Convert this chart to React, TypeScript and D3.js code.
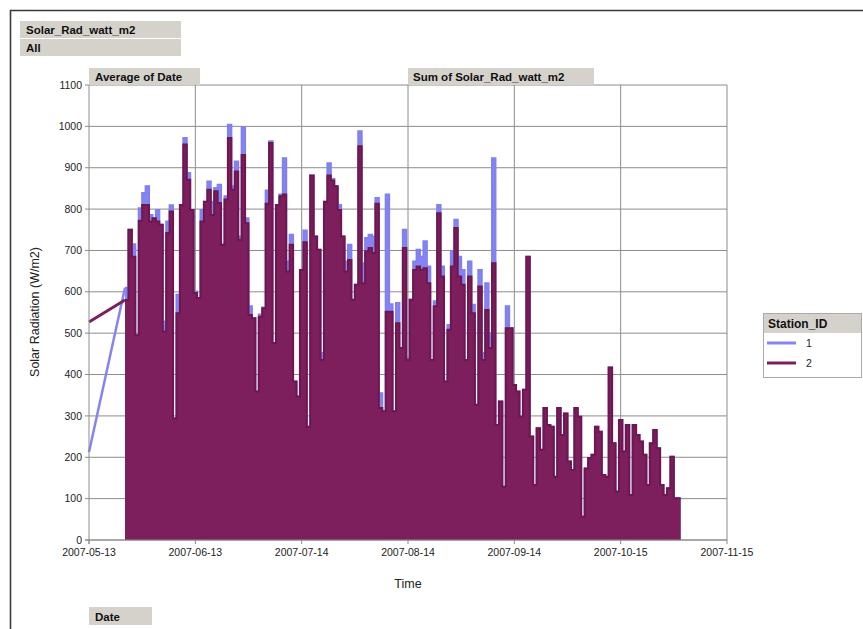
import React from "react";
import * as d3 from "d3";

// ---- data ----
const TICK_DATES = ["2007-05-13", "2007-06-13", "2007-07-14", "2007-08-14", "2007-09-14", "2007-10-15", "2007-11-15"];
const Y_TICKS = [0, 100, 200, 300, 400, 500, 600, 700, 800, 900, 1000, 1100];
const SERIES_NAMES = ["1", "2"];
const LEAD_DATE = "2007-05-13";
const LEAD_STATION1 = 213;
const LEAD_STATION2 = 527;
const FIRST_DAY = "2007-05-24";

// daily peak solar radiation (W/m2), station 2
const STATION2 = [
  580, 750, 685, 495, 772, 810, 810, 770, 778, 770, 762, 504, 742, 794, 294, 548, 810, 956, 871, 798,
  597, 585, 770, 818, 847, 786, 843, 815, 714, 823, 972, 847, 891, 726, 931, 766, 544, 536, 359,
  540, 560, 813, 960, 476, 810, 831, 835, 649, 714, 383, 347, 653, 720, 274, 881, 734, 702, 435, 818,
  881, 869, 855, 798, 734, 649, 677, 581, 617, 952, 621, 698, 706, 694, 813, 319, 311, 552, 552, 311,
  524, 464,
  706, 435, 581, 653, 661, 653, 657, 621, 435, 565, 790, 637, 383, 508, 661, 754, 637, 617, 435, 637,
  548, 327, 613, 435, 556, 464, 669, 278, 335, 129, 512, 512, 375, 359, 298, 363, 685, 250, 133, 270, 218,
  319, 278, 274, 153, 319, 254, 306, 190, 169, 319, 298, 56, 173, 198, 206, 274, 262, 157, 153, 417,
  234, 117, 290, 214, 278, 109, 278, 254, 238, 206, 133, 234, 266, 222, 133, 109, 125, 201, 101, 101,
];

// daily peak solar radiation (W/m2), station 1
const STATION1 = [
  610, 750, 715, 495, 802, 839, 855, 786, 778, 798, 762, 528, 770, 809, 294, 593, 810, 972, 887, 798,
  601, 585, 798, 818, 867, 818, 851, 859, 714, 831, 1004, 855, 915, 734, 998, 778, 565, 536, 359,
  545, 562, 845, 964, 476, 810, 835, 923, 673, 738, 383, 347, 653, 748, 274, 881, 734, 702, 452, 818,
  911, 873, 855, 810, 734, 673, 714, 581, 617, 988, 669, 730, 738, 734, 827, 355, 311, 835, 570, 311,
  573, 464,
  750, 440, 581, 673, 702, 685, 722, 661, 435, 577, 810, 661, 383, 520, 698, 774, 685, 653, 435, 673,
  569, 327, 653, 452, 621, 500, 923, 278, 335, 129, 565, 512, 375, 359, 298, 363, 685, 250, 133, 270, 218,
  319, 278, 274, 153, 319, 254, 306, 190, 169, 319, 298, 56, 173, 198, 206, 274, 262, 157, 153, 417,
  234, 117, 290, 214, 278, 109, 278, 254, 238, 206, 133, 234, 266, 222, 133, 109, 125, 201, 101, 101,
];

const COLORS = ["#8484f2", "#7d1f5c"];
const STROKES = ["#8080f0", "#6e1650"];
const FONT = "'Liberation Sans', Arial, sans-serif";
const BOX = "#d5d2cc";

const parse = d3.utcParse("%Y-%m-%d");

type Pt = { t: Date; v: number };

function stepPoints(values: number[]): Pt[] {
  const first = parse(FIRST_DAY) as Date;
  const pts: Pt[] = [];
  values.forEach((v, i) => {
    const day = d3.utcDay.offset(first, i);
    pts.push({ t: d3.utcHour.offset(day, -12), v });
    pts.push({ t: d3.utcHour.offset(day, 12), v });
  });
  return pts;
}

export default function App() {
  const W = 863, H = 629;
  const left = 89, right = 727, top = 85, bottom = 540;
  const tickDates = TICK_DATES.map((d) => parse(d) as Date);
  const x = d3.scaleUtc().domain([tickDates[0], tickDates[tickDates.length - 1]]).range([left, right]);
  const y = d3.scaleLinear().domain([0, 1100]).range([bottom, top]);

  const area = d3.area<Pt>().x((d) => x(d.t)).y0(y(0)).y1((d) => y(d.v));
  const line = d3.line<Pt>().x((d) => x(d.t)).y((d) => y(d.v));

  const series = [
    { values: STATION1, lead: LEAD_STATION1 },
    { values: STATION2, lead: LEAD_STATION2 },
  ];

  const fmt = d3.utcFormat("%Y-%m-%d");

  return (
    <div style={{ position: "absolute", left: 0, top: 0 }}>
      <svg width={W} height={H} style={{ display: "block", background: "#fff" }} fontFamily={FONT}>
        {/* frame */}
        <path d={`M10.5,${H} V10.5 H${W}`} fill="none" stroke="#3a3a3a" strokeWidth={1.6} />

        {/* gridlines */}
        {Y_TICKS.map((v) => (
          <line key={"h" + v} x1={left} x2={right} y1={y(v)} y2={y(v)} stroke="#8c8c8c" strokeWidth={1} />
        ))}
        {tickDates.slice(1).map((d, i) => (
          <line key={"v" + i} x1={x(d)} x2={x(d)} y1={top} y2={bottom} stroke="#8c8c8c" strokeWidth={1} />
        ))}

        {/* series */}
        {series.map((s, i) => {
          const pts = stepPoints(s.values);
          const leadPt: Pt = { t: parse(LEAD_DATE) as Date, v: s.lead };
          return (
            <g key={"s" + i}>
              <path d={area(pts) || ""} fill={COLORS[i]} stroke="none" />
              <path d={line(pts) || ""} fill="none" stroke={STROKES[i]} strokeWidth={2} strokeLinejoin="miter" />
              <path d={line([leadPt, pts[0]]) || ""} fill="none" stroke={COLORS[i]} strokeWidth={i === 0 ? 2.5 : 3} />
            </g>
          );
        })}

        {/* axes */}
        <line x1={left} x2={left} y1={top} y2={bottom + 4} stroke="#8c8c8c" />
        <line x1={left - 4} x2={right} y1={bottom} y2={bottom} stroke="#8c8c8c" />
        {Y_TICKS.map((v) => (
          <g key={"yt" + v}>
            <line x1={left - 4} x2={left} y1={y(v)} y2={y(v)} stroke="#8c8c8c" />
            <text x={left - 7} y={y(v)} dy="0.35em" textAnchor="end" fontSize={10.5} fill="#222">{v}</text>
          </g>
        ))}
        {tickDates.map((d, i) => (
          <g key={"xt" + i}>
            <line x1={x(d)} x2={x(d)} y1={bottom} y2={bottom + 4} stroke="#8c8c8c" />
            <text x={x(d)} y={556} textAnchor="middle" fontSize={10.5} fill="#222">{fmt(d)}</text>
          </g>
        ))}
        <text x={408} y={588} textAnchor="middle" fontSize={12.5} fill="#222">Time</text>
        <text transform={`translate(39,312) rotate(-90)`} textAnchor="middle" fontSize={12.5} fill="#222">Solar Radiation (W/m2)</text>

        {/* pivot field buttons */}
        <rect x={20} y={21} width={161} height={17} fill={BOX} />
        <text x={26} y={34} fontSize={11.5} fontWeight="bold" fill="#111">Solar_Rad_watt_m2</text>
        <rect x={20} y={39} width={161} height={17} fill={BOX} />
        <text x={26} y={52} fontSize={11.5} fontWeight="bold" fill="#111">All</text>
        <rect x={89} y={68} width={111} height={17} fill={BOX} />
        <text x={95} y={81} fontSize={11.5} fontWeight="bold" fill="#111">Average of Date</text>
        <rect x={408} y={68} width={186} height={17} fill={BOX} />
        <text x={413} y={81} fontSize={11.5} fontWeight="bold" fill="#111">Sum of Solar_Rad_watt_m2</text>
        <rect x={89} y={607} width={63} height={18} fill={BOX} />
        <text x={95} y={621} fontSize={11.5} fontWeight="bold" fill="#111">Date</text>

        {/* legend */}
        <rect x={763.5} y={313.5} width={98} height={64} fill="#fff" stroke="#aaa" />
        <rect x={764} y={314} width={97} height={19} fill={BOX} />
        <text x={768} y={328} fontSize={12} fontWeight="bold" fill="#111">Station_ID</text>
        {SERIES_NAMES.map((n, i) => (
          <g key={"lg" + n}>
            <line x1={767} x2={796} y1={343 + i * 20} y2={343 + i * 20} stroke={COLORS[i]} strokeWidth={3} />
            <text x={806} y={347 + i * 20} fontSize={10.5} fill="#222">{n}</text>
          </g>
        ))}
      </svg>
    </div>
  );
}
